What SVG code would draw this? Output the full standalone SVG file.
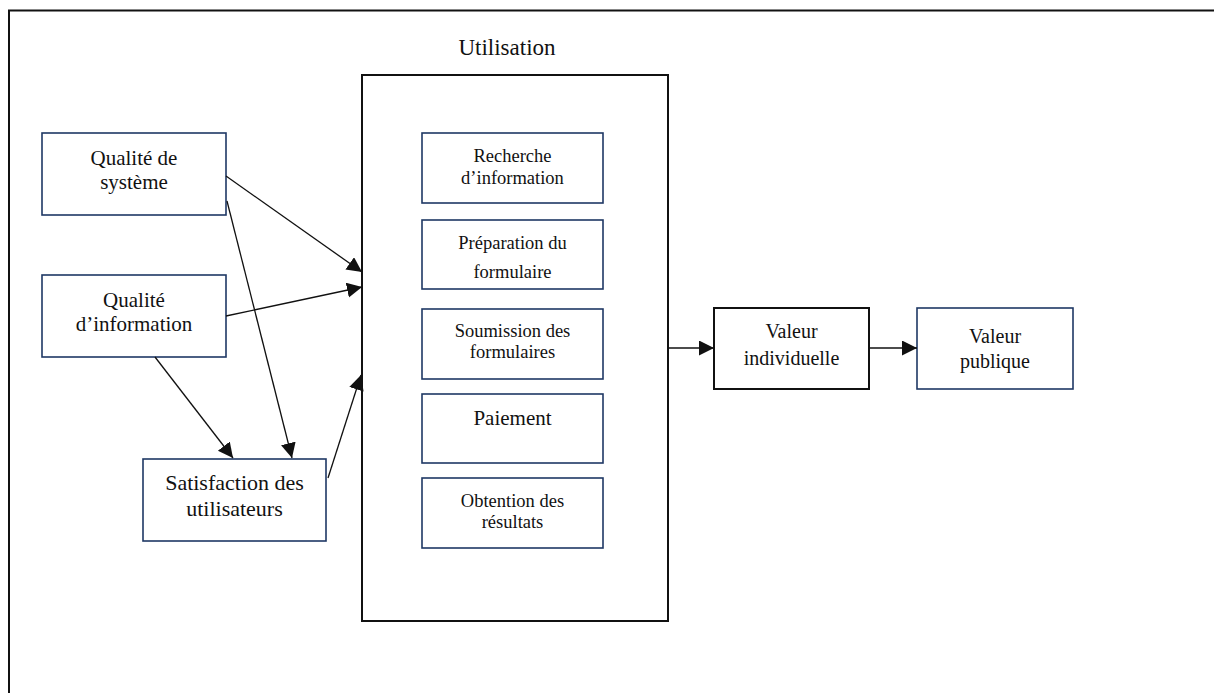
<svg xmlns="http://www.w3.org/2000/svg" width="1214" height="693" viewBox="0 0 1214 693">
  <style>
    text { font-family: "Liberation Serif", "Times New Roman", serif; fill: #111; text-anchor: middle; }
    .frame { fill: none; stroke: #111; stroke-width: 2; }
    .navy { fill: #fff; stroke: #1f3864; stroke-width: 1.6; }
    .black { fill: #fff; stroke: #111; stroke-width: 2; }
    .edge { fill: none; stroke: #111; stroke-width: 1.3; marker-end: url(#head); }
    .t21 { font-size: 21px; }
    .t22 { font-size: 22px; }
    .t18 { font-size: 18.5px; }
    .t20 { font-size: 20px; }
  </style>
  <defs>
    <marker id="head" markerUnits="userSpaceOnUse" markerWidth="17" markerHeight="16" refX="15" refY="7.5" orient="auto">
      <path d="M0,0 L15,7.5 L0,15 Z" fill="#111"/>
    </marker>
  </defs>

  <rect width="1214" height="693" fill="#fff"/>

  <!-- outer frame, running past the right and bottom edges -->
  <rect class="frame" x="9" y="10.5" width="1230" height="720"/>

  <g id="qualite-systeme">
    <rect class="navy" x="42" y="133" width="184" height="82"/>
    <text class="t21" x="134" y="165">Qualité de</text>
    <text class="t21" x="134" y="189">système</text>
  </g>

  <g id="qualite-information">
    <rect class="navy" x="42" y="275" width="184" height="82"/>
    <text class="t21" x="134" y="307">Qualité</text>
    <text class="t21" x="134" y="331">d’information</text>
  </g>

  <g id="satisfaction">
    <rect class="navy" x="143" y="459" width="183" height="82"/>
    <text class="t22" x="234.5" y="490">Satisfaction des</text>
    <text class="t22" x="234.5" y="516">utilisateurs</text>
  </g>

  <g id="utilisation">
    <text x="507" y="55" style="font-size:23px">Utilisation</text>
    <rect class="black" x="362" y="75" width="306" height="546"/>
  </g>

  <g id="recherche">
    <rect class="navy" x="422" y="133" width="181" height="70"/>
    <text class="t18" x="512.5" y="162">Recherche</text>
    <text class="t18" x="512.5" y="184">d’information</text>
  </g>

  <g id="preparation">
    <rect class="navy" x="422" y="220" width="181" height="69"/>
    <text class="t18" x="512.5" y="249">Préparation du</text>
    <text class="t18" x="512.5" y="278">formulaire</text>
  </g>

  <g id="soumission">
    <rect class="navy" x="422" y="309" width="181" height="70"/>
    <text class="t18" x="512.5" y="337">Soumission des</text>
    <text class="t18" x="512.5" y="358">formulaires</text>
  </g>

  <g id="paiement">
    <rect class="navy" x="422" y="394" width="181" height="69"/>
    <text class="t21" x="512.5" y="425">Paiement</text>
  </g>

  <g id="obtention">
    <rect class="navy" x="422" y="478" width="181" height="70"/>
    <text class="t18" x="512.5" y="507">Obtention des</text>
    <text class="t18" x="512.5" y="528">résultats</text>
  </g>

  <g id="valeur-individuelle">
    <rect class="black" x="714" y="308" width="155" height="81"/>
    <text class="t20" x="791.5" y="338">Valeur</text>
    <text class="t20" x="791.5" y="365">individuelle</text>
  </g>

  <g id="valeur-publique">
    <rect class="navy" x="917" y="308" width="156" height="81"/>
    <text class="t20" x="995" y="343">Valeur</text>
    <text class="t20" x="995" y="368">publique</text>
  </g>

  <g id="connectors">
    <line class="edge" x1="226" y1="176" x2="362" y2="272"/>
    <line class="edge" x1="226" y1="316" x2="362" y2="287"/>
    <line class="edge" x1="227" y1="201" x2="292" y2="458"/>
    <line class="edge" x1="155" y1="357" x2="233" y2="458"/>
    <line class="edge" x1="328" y1="478" x2="361" y2="375"/>
    <line class="edge" x1="668" y1="348" x2="714" y2="348"/>
    <line class="edge" x1="869" y1="348" x2="917" y2="348"/>
  </g>
</svg>
